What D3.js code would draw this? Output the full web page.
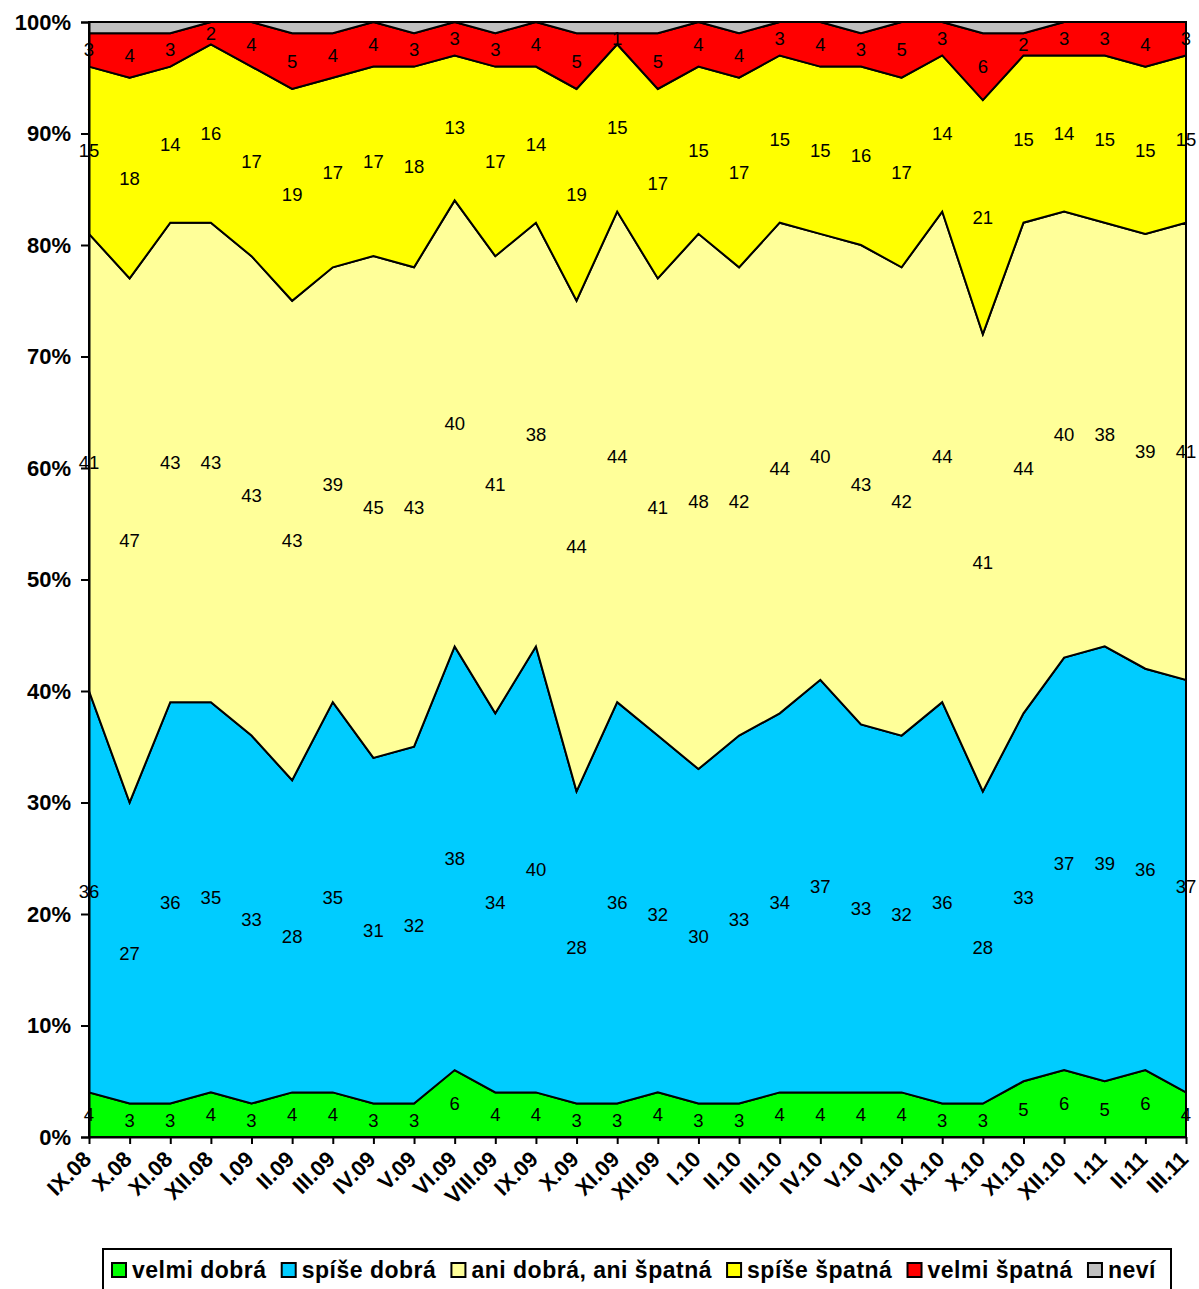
<!DOCTYPE html>
<html>
<head>
<meta charset="utf-8">
<script src="https://cdn.jsdelivr.net/npm/d3@7"></script>
<style>
  body { margin: 0; background: #fff; }
  svg { display: block; font-family: "Liberation Sans", Arial, sans-serif; }
</style>
</head>
<body>
<svg id="chart" width="1199" height="1289"></svg>
<script>
const categories = ["IX.08","X.08","XI.08","XII.08","I.09","II.09","III.09","IV.09","V.09","VI.09","VIII.09","IX.09","X.09","XI.09","XII.09","I.10","II.10","III.10","IV.10","V.10","VI.10","IX.10","X.10","XI.10","XII.10","I.11","II.11","III.11"];
const velmiDobra   = [4,3,3,4,3,4,4,3,3,6,4,4,3,3,4,3,3,4,4,4,4,3,3,5,6,5,6,4];
const spiseDobra   = [36,27,36,35,33,28,35,31,32,38,34,40,28,36,32,30,33,34,37,33,32,36,28,33,37,39,36,37];
const aniAni       = [41,47,43,43,43,43,39,45,43,40,41,38,44,44,41,48,42,44,40,43,42,44,41,44,40,38,39,41];
const spiseSpatna  = [15,18,14,16,17,19,17,17,18,13,17,14,19,15,17,15,17,15,15,16,17,14,21,15,14,15,15,15];
const velmiSpatna  = [3,4,3,2,4,5,4,4,3,3,3,4,5,1,5,4,4,3,4,3,5,3,6,2,3,3,4,3];
const nevi         = [1,1,1,0,0,1,1,0,1,0,1,0,1,1,1,0,1,0,0,1,0,0,1,1,0,0,0,0];
const yTicks = [0,10,20,30,40,50,60,70,80,90,100];

const seriesNames = ["velmi dobrá","spíše dobrá","ani dobrá, ani špatná","spíše špatná","velmi špatná","neví"];
const seriesValues = [velmiDobra, spiseDobra, aniAni, spiseSpatna, velmiSpatna, nevi];
const seriesColors = ["#00ff00","#00ccff","#ffff99","#ffff00","#ff0000","#c0c0c0"];
const seriesLabeled = [true,true,true,true,true,false];

const table = categories.map((c, i) => {
  const row = { cat: c };
  seriesNames.forEach((s, j) => row[s] = seriesValues[j][i]);
  return row;
});

const svg = d3.select("#chart");
const plotLeft = 89, plotRight = 1186, plotTop = 22, plotBottom = 1137;

const x = d3.scalePoint().domain(categories).range([plotLeft, plotRight]);
const y = d3.scaleLinear().domain([0, 100]).range([plotBottom, plotTop]);

const stacked = d3.stack().keys(seriesNames)(table);

const area = d3.area()
  .x(d => x(d.data.cat))
  .y0(d => y(d[0]))
  .y1(d => y(d[1]));

const g = svg.append("g");
g.selectAll("path.area")
  .data(stacked)
  .join("path")
  .attr("class", "area")
  .attr("d", area)
  .attr("fill", (d, i) => seriesColors[i])
  .attr("stroke", "#000")
  .attr("stroke-width", 2)
  .attr("stroke-linejoin", "miter");

// data labels
stacked.forEach((s, i) => {
  if (!seriesLabeled[i]) return;
  g.append("g").selectAll("text")
    .data(s)
    .join("text")
    .attr("x", d => x(d.data.cat))
    .attr("y", d => y((d[0] + d[1]) / 2))
    .attr("text-anchor", "middle")
    .attr("dominant-baseline", "central")
    .attr("font-size", 18.5)
    .attr("fill", "#000")
    .text(d => d.data[seriesNames[i]]);
});

// Y axis
const yAxis = d3.axisLeft(y).tickValues(yTicks).tickFormat(d => d + "%").tickSize(8).tickPadding(10);
const ya = svg.append("g").attr("transform", `translate(${plotLeft},0)`).call(yAxis);
ya.select(".domain").attr("stroke", "#000").attr("stroke-width", 2);
ya.selectAll(".tick line").attr("stroke", "#000").attr("stroke-width", 2);
ya.selectAll(".tick text").attr("font-size", 22).attr("font-weight", "bold").attr("fill", "#000")
  .attr("font-family", "'Liberation Sans', Arial, sans-serif");

// X axis
const xAxis = d3.axisBottom(x).tickSize(7).tickSizeOuter(0).tickFormat("");
const xa = svg.append("g").attr("transform", `translate(0,${plotBottom})`).call(xAxis);
xa.select(".domain").attr("stroke", "#000").attr("stroke-width", 2);
xa.selectAll(".tick line").attr("stroke", "#000").attr("stroke-width", 2);

svg.append("g").selectAll("text")
  .data(categories)
  .join("text")
  .attr("transform", d => `translate(${x(d) - 2},${plotBottom + 18}) rotate(-45)`)
  .attr("text-anchor", "end")
  .attr("dy", "0.36em")
  .attr("font-size", 22)
  .attr("font-weight", "bold")
  .attr("fill", "#000")
  .text(d => d);

// Legend
const legend = svg.append("g");
legend.append("rect")
  .attr("x", 103).attr("y", 1249).attr("width", 1068).attr("height", 60)
  .attr("fill", "#fff").attr("stroke", "#000").attr("stroke-width", 2);

const legendItems = legend.selectAll("g.item")
  .data(seriesNames)
  .join("g")
  .attr("class", "item");
legendItems.append("rect")
  .attr("width", 14).attr("height", 14)
  .attr("fill", (d, i) => seriesColors[i])
  .attr("stroke", "#000").attr("stroke-width", 2);
legendItems.append("text")
  .attr("x", 20).attr("y", 7)
  .attr("dominant-baseline", "central")
  .attr("font-size", 23)
  .attr("letter-spacing", 0.5)
  .attr("font-weight", "bold")
  .attr("fill", "#000")
  .text(d => d);

// sequential layout
const startX = 112, endX = 1156;
const widths = [];
legendItems.each(function() {
  widths.push(20 + d3.select(this).select("text").node().getComputedTextLength());
});
const total = d3.sum(widths);
const gap = (endX - startX - total) / (seriesNames.length - 1);
let cx = startX;
legendItems.attr("transform", (d, i) => {
  const t = `translate(${cx},1263)`;
  cx += widths[i] + gap;
  return t;
});
</script>
</body>
</html>
